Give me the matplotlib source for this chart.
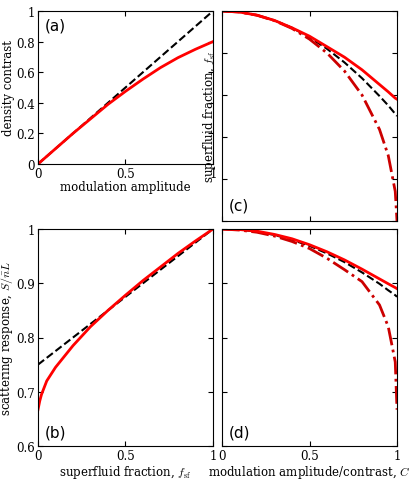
import matplotlib
matplotlib.use("Agg")
import matplotlib.pyplot as plt

plt.rcParams['font.family'] = 'DejaVu Serif'
plt.rcParams['mathtext.fontset'] = 'cm'

xa = [0,0.1,0.2,0.3,0.4,0.5,0.6,0.7,0.8,0.9,1.0]
a_red = [0,0.1,0.2,0.295,0.39,0.475,0.555,0.63,0.695,0.75,0.8]
a_dash = [0,0.1,0.2,0.3,0.4,0.5,0.6,0.7,0.8,0.9,1.0]

xc = [0,0.1,0.2,0.3,0.4,0.5,0.6,0.7,0.8,0.9,0.95,0.99,1.0]
c_red = [1,0.995,0.98,0.955,0.92,0.88,0.83,0.78,0.72,0.65,0.615,0.585,0.58]
c_dash = [1,0.995,0.98,0.955,0.92,0.875,0.82,0.755,0.68,0.595,0.55,0.51,0.5]
c_dd = [1,0.995,0.98,0.954,0.917,0.866,0.8,0.714,0.6,0.436,0.312,0.141,0.0]

xb = [0,0.01,0.02,0.05,0.1,0.2,0.3,0.4,0.5,0.6,0.7,0.8,0.9,1.0]
b_red = [0.667,0.683,0.695,0.72,0.745,0.785,0.82,0.85,0.878,0.905,0.93,0.955,0.978,1.0]
b_dash = [0.75,0.7525,0.755,0.7625,0.775,0.8,0.825,0.85,0.875,0.9,0.925,0.95,0.975,1.0]

xd = [0,0.1,0.2,0.3,0.4,0.5,0.6,0.7,0.8,0.9,0.95,0.99,1.0]
d_red = [1,0.999,0.996,0.99,0.982,0.971,0.958,0.943,0.926,0.908,0.899,0.892,0.89]
d_dash = [1,0.999,0.995,0.989,0.98,0.969,0.955,0.939,0.92,0.899,0.887,0.878,0.875]
d_dd = [1,0.998,0.994,0.987,0.977,0.964,0.946,0.925,0.903,0.86,0.82,0.755,0.667]

W, H = 416, 485
fig = plt.figure(figsize=(W/100, H/100), dpi=100)
def ax_at(x0, y0, x1, y1):
    return fig.add_axes([x0/W, 1-y1/H, (x1-x0)/W, (y1-y0)/H])

axa = ax_at(38, 12, 213, 165)
axc = ax_at(222, 12, 397, 222)
axb = ax_at(38, 230, 213, 447)
axd = ax_at(222, 230, 397, 447)

red = '#ff0000'
dred = '#cc0000'
axa.plot(xa, a_dash, 'k--', lw=1.5)
axa.plot(xa, a_red, color=red, lw=2)
axc.plot(xc, c_dash, 'k--', lw=1.5)
axc.plot(xc, c_dd, color=dred, lw=2, ls='-.')
axc.plot(xc, c_red, color=red, lw=2)
axb.plot(xb, b_dash, 'k--', lw=1.5)
axb.plot(xb, b_red, color=red, lw=2)
axd.plot(xd, d_dash, 'k--', lw=1.5)
axd.plot(xd, d_dd, color=dred, lw=2, ls='-.')
axd.plot(xd, d_red, color=red, lw=2)

fs = 8.5
for ax in (axa, axb, axc, axd):
    ax.set_xlim(0, 1)
    ax.set_xticks([0, 0.5, 1])
    ax.set_xticklabels(['0', '0.5', '1'])
    ax.tick_params(direction='in', top=True, right=True, labelsize=fs, pad=2)
for ax in (axa, axc):
    ax.set_ylim(0, 1)
    ax.set_yticks([0, 0.2, 0.4, 0.6, 0.8, 1])
for ax in (axb, axd):
    ax.set_ylim(0.6, 1)
    ax.set_yticks([0.6, 0.7, 0.8, 0.9, 1])
axa.set_yticklabels(['0', '0.2', '0.4', '0.6', '0.8', '1'])
axb.set_yticklabels(['0.6', '0.7', '0.8', '0.9', '1'])
axc.set_yticklabels([])
axd.set_yticklabels([])
axc.set_xticklabels([])

axa.set_xlabel('modulation amplitude', fontsize=fs, labelpad=0)
axa.set_ylabel('density contrast', fontsize=fs, labelpad=1)
axc.set_ylabel(r'superfluid fraction, $f_{\rm sf}$', fontsize=fs, labelpad=1)
axb.set_xlabel(r'superfluid fraction, $f_{\rm sf}$', fontsize=fs, labelpad=1)
axb.set_ylabel(r'scattering response, $S/\bar{n}L$', fontsize=fs, labelpad=1)
axd.set_xlabel(r'modulation amplitude/contrast, $C$', fontsize=fs, labelpad=1)

lab = dict(fontsize=11, family='DejaVu Sans')
axa.text(0.04, 0.96, '(a)', transform=axa.transAxes, va='top', **lab)
axc.text(0.04, 0.04, '(c)', transform=axc.transAxes, va='bottom', **lab)
axb.text(0.04, 0.03, '(b)', transform=axb.transAxes, va='bottom', **lab)
axd.text(0.04, 0.03, '(d)', transform=axd.transAxes, va='bottom', **lab)

fig.savefig('out.png', dpi=100)
